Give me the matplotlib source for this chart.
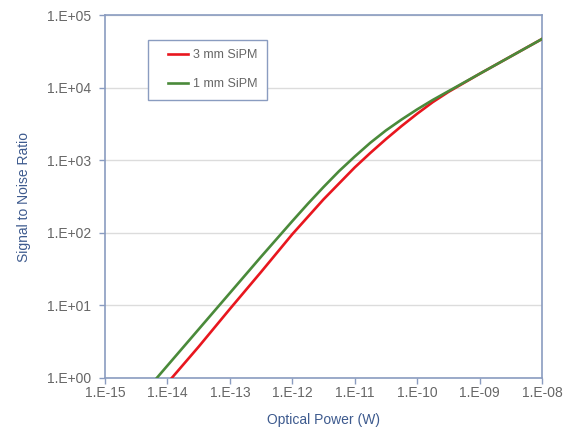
import numpy as np
import matplotlib
matplotlib.use("Agg")
from matplotlib import pyplot as plt
from matplotlib.ticker import FixedLocator, FixedFormatter, NullLocator
from matplotlib.legend_handler import HandlerLine2D

# values, as log10(power) / log10(SNR)
log_p_3mm = [-13.93, -13.5, -13.0, -12.5, -12.0, -11.75, -11.5, -11.25, -11.0, -10.75,
             -10.5, -10.25, -10.0, -9.75, -9.5, -9.0, -8.5, -8.0]
log_snr_3mm = [0.0, 0.43, 0.95, 1.46, 1.98, 2.22, 2.46, 2.68, 2.90, 3.10,
               3.29, 3.47, 3.64, 3.80, 3.94, 4.19, 4.43, 4.67]

log_p_1mm = [-14.17, -14.0, -13.5, -13.0, -12.5, -12.0, -11.75, -11.5, -11.25, -11.0,
             -10.75, -10.5, -10.25, -10.0, -9.75, -9.5, -9.0, -8.5, -8.0]
log_snr_1mm = [0.0, 0.17, 0.67, 1.17, 1.67, 2.16, 2.40, 2.63, 2.85, 3.05,
               3.24, 3.41, 3.56, 3.70, 3.83, 3.95, 4.19, 4.43, 4.67]

x_ticks = [1e-15, 1e-14, 1e-13, 1e-12, 1e-11, 1e-10, 1e-09, 1e-08]
x_labels = ["1.E-15", "1.E-14", "1.E-13", "1.E-12", "1.E-11", "1.E-10", "1.E-09", "1.E-08"]
y_ticks = [1e0, 1e1, 1e2, 1e3, 1e4, 1e5]
y_labels = ["1.E+00", "1.E+01", "1.E+02", "1.E+03", "1.E+04", "1.E+05"]

plt.rcParams['font.family'] = ['Liberation Sans', 'DejaVu Sans']

spine_col = '#8a9cc0'
text_col = '#666666'
label_col = '#3d5a8e'

fig = plt.figure(figsize=(5.69, 4.30), dpi=100)
ax = fig.add_axes([0.1845, 0.121, 0.768, 0.844])

ax.plot(10 ** np.array(log_p_3mm), 10 ** np.array(log_snr_3mm), color='#e8161e', lw=1.9,
        label='3 mm SiPM', zorder=3)
ax.plot(10 ** np.array(log_p_1mm), 10 ** np.array(log_snr_1mm), color='#4a8a3a', lw=1.9,
        label='1 mm SiPM', zorder=4)

ax.set_xscale('log')
ax.set_yscale('log')
ax.set_xlim(1e-15, 1e-8)
ax.set_ylim(1, 1e5)

ax.xaxis.set_major_locator(FixedLocator(x_ticks))
ax.xaxis.set_major_formatter(FixedFormatter(x_labels))
ax.xaxis.set_minor_locator(NullLocator())
ax.yaxis.set_major_locator(FixedLocator(y_ticks))
ax.yaxis.set_major_formatter(FixedFormatter(y_labels))
ax.yaxis.set_minor_locator(NullLocator())

ax.grid(axis='y', color='#dcdcdc', lw=1.0)
ax.set_axisbelow(True)
for s in ax.spines.values():
    s.set_color(spine_col)
    s.set_linewidth(1.2)
ax.tick_params(axis='both', colors=spine_col, labelcolor=text_col, labelsize=10,
               length=4, width=1.0)
ax.tick_params(axis='x', pad=2)
ax.tick_params(axis='y', pad=6)

ax.set_xlabel('Optical Power (W)', color=label_col, fontsize=10, va='center')
ax.xaxis.set_label_coords(0.5, -0.116)
ax.set_ylabel('Signal to Noise Ratio', color=label_col, fontsize=10, va='center')
ax.yaxis.set_label_coords(-0.185, 0.5)

hmap = {l: HandlerLine2D(xpad=0.9) for l in ax.get_lines()}
leg = ax.legend(loc='upper left', bbox_to_anchor=(0.098, 0.931), fancybox=False,
                framealpha=1, edgecolor=spine_col, fontsize=9, handlelength=2.5,
                handletextpad=0.35, borderpad=0.75, labelspacing=1.35, borderaxespad=0,
                handler_map=hmap)
leg.get_frame().set_linewidth(1.0)
for t in leg.get_texts():
    t.set_color(text_col)

fig.savefig('out.png', dpi=100)
